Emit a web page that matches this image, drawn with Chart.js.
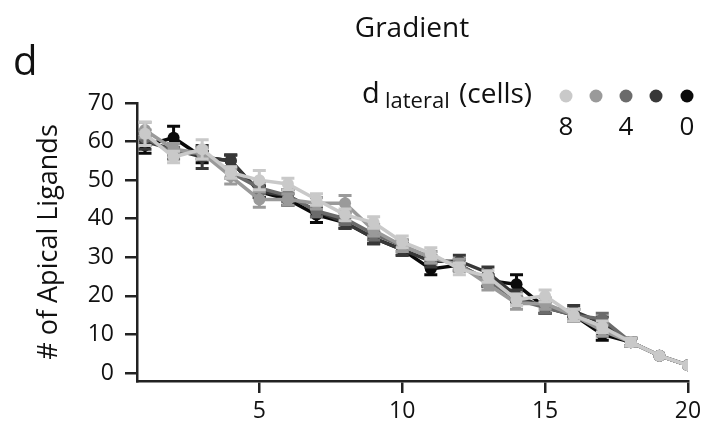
<!DOCTYPE html>
<html>
<head>
<meta charset="utf-8">
<script src="https://cdn.jsdelivr.net/npm/chart.js@4.4.1/dist/chart.umd.min.js"></script>
<style>
  html, body { margin: 0; padding: 0; background: #fff; }
  #wrap { width: 721px; height: 427px; }
</style>
</head>
<body>
<div id="wrap"><canvas id="chart" width="721" height="427"></canvas></div>
<script>
// position le long du gradient
const positions = [1, 2, 3, 4, 5, 6, 7, 8, 9, 10, 11, 12, 13, 14, 15, 16, 17, 18, 19, 20];

// d lateral = 8, 6, 4, 2, 0 (cellules)
const lateral8 = [62, 56, 58, 52, 50, 49, 45, 41, 39, 34, 31, 27, 25, 19, 20, 15, 12, 8, 4.5, 2];
const lateral6 = [63, 58, 57, 51, 45, 45, 44, 44, 37, 33, 30, 28, 23, 18, 18, 15, 11, 8, 4.5, 2];
const lateral4 = [61, 57, 57, 52, 48, 46, 42, 40, 36, 33, 30, 28, 24, 19, 17, 15, 14, 8, 4.5, 2];
const lateral2 = [60, 58, 56, 55, 47, 46, 42, 39, 35, 32, 29, 29, 26, 20, 17, 16, 13, 8, 4.5, 2];
const lateral0 = [59, 61, 56, 55, 47, 45, 41, 39, 35, 32, 27, 28, 24, 23, 17, 15, 10, 8, 4.5, 2];

// erreurs standard
const err8 = [3, 1.5, 2.5, 1.5, 2.5, 1.5, 1.5, 1.5, 1.5, 1.5, 1.5, 1.5, 1.5, 1.5, 1.5, 1.5, 1.5, 1, 0, 0];
const err6 = [2, 1.5, 1.5, 2, 2, 1.5, 1.5, 2, 1.5, 1.5, 1.5, 1.5, 1.5, 1.5, 1.5, 1.5, 1.5, 1, 0, 0];
const err4 = [2, 1.5, 1.5, 1.5, 1.5, 1.5, 1.5, 1.5, 1.5, 1.5, 1.5, 1.5, 1.5, 1.5, 1.5, 1.5, 1.5, 1, 0, 0];
const err2 = [2, 1.5, 3, 1.5, 1.5, 1.5, 1.5, 1.5, 1.5, 1.5, 1.5, 1.5, 1.5, 1.5, 1.5, 1.5, 1.5, 1, 0, 0];
const err0 = [2, 3, 1.5, 1.5, 1.5, 1.5, 2, 1.5, 1.5, 1.5, 1.5, 1.5, 1.5, 2.5, 1.5, 1.5, 1.5, 1, 0, 0];

const xTicks = [5, 10, 15, 20];
const yTicks = [0, 10, 20, 30, 40, 50, 60, 70];

const legendValues = ['8', '', '4', '', '0'];
const greys = ['#c9c9c9', '#9a9a9a', '#6b6b6b', '#383838', '#0a0a0a'];

const FONT = '"Open Sans", "Noto Sans", sans-serif';

function serie(values, errors, color) {
    return {
        data: positions.map((x, i) => ({ x: x, y: values[i] })),
        errors: errors,
        borderColor: color,
        backgroundColor: color,
        borderWidth: 3.5,
        pointRadius: 6,
        pointBorderWidth: 0,
        pointBackgroundColor: color,
        tension: 0
    };
}

// barres d'erreur, dessinées sous les points de chaque série
const errorBars = {
    id: 'errorBars',
    beforeDatasetDraw(chart, args) {
        const ds = chart.data.datasets[args.index];
        const meta = args.meta;
        const y = chart.scales.y;
        const ctx = chart.ctx;
        ctx.save();
        ctx.strokeStyle = ds.borderColor;
        ctx.lineWidth = 3;
        meta.data.forEach((pt, i) => {
            const e = ds.errors[i];
            if (!e) return;
            const v = ds.data[i].y;
            const top = y.getPixelForValue(v + e);
            const bot = y.getPixelForValue(v - e);
            ctx.beginPath();
            ctx.moveTo(pt.x, top);
            ctx.lineTo(pt.x, bot);
            ctx.moveTo(pt.x - 6.5, top);
            ctx.lineTo(pt.x + 6.5, top);
            ctx.moveTo(pt.x - 6.5, bot);
            ctx.lineTo(pt.x + 6.5, bot);
            ctx.stroke();
        });
        ctx.restore();
    }
};

// titre, lettre du panneau et légende d lateral
const annotations = {
    id: 'annotations',
    afterDraw(chart) {
        const ctx = chart.ctx;
        ctx.save();
        ctx.fillStyle = '#111';
        ctx.textBaseline = 'alphabetic';

        ctx.font = '28px ' + FONT;
        ctx.textAlign = 'center';
        ctx.fillText('Gradient', 412, 37);

        ctx.font = '40px ' + FONT;
        ctx.textAlign = 'left';
        ctx.fillText('d', 13, 75);

        ctx.font = '29px ' + FONT;
        ctx.fillText('d', 362, 103);
        ctx.font = '22px ' + FONT;
        ctx.fillText('lateral', 385, 108);
        ctx.font = '28px ' + FONT;
        ctx.fillText('(cells)', 459, 103);

        const xs = [566, 596, 626, 656, 687];
        ctx.font = '26px ' + FONT;
        ctx.textAlign = 'center';
        xs.forEach((x, i) => {
            ctx.beginPath();
            ctx.fillStyle = greys[i];
            ctx.arc(x, 96, 6.5, 0, Math.PI * 2);
            ctx.fill();
            ctx.fillStyle = '#111';
            if (legendValues[i]) ctx.fillText(legendValues[i], x, 135);
        });
        ctx.restore();
    }
};

new Chart(document.getElementById('chart'), {
    type: 'line',
    data: {
        datasets: [
            serie(lateral8, err8, greys[0]),
            serie(lateral6, err6, greys[1]),
            serie(lateral4, err4, greys[2]),
            serie(lateral2, err2, greys[3]),
            serie(lateral0, err0, greys[4])
        ]
    },
    options: {
        responsive: false,
        animation: false,
        layout: { padding: { left: 0, right: 33, top: 103, bottom: 0 } },
        plugins: {
            legend: { display: false },
            tooltip: { enabled: false }
        },
        scales: {
            x: {
                type: 'linear',
                min: 0.72,
                max: 20,
                afterFit(scale) { scale.height = 46; },
                afterBuildTicks(scale) { scale.ticks = xTicks.map(v => ({ value: v })); },
                border: { display: true, color: '#222', width: 2.5 },
                grid: { drawOnChartArea: false, drawTicks: true, tickLength: 12, color: '#222', lineWidth: 2.5 },
                ticks: { color: '#111', padding: 5, font: { family: FONT, size: 23 }, maxRotation: 0 }
            },
            y: {
                type: 'linear',
                min: -2.07,
                max: 70,
                afterFit(scale) { scale.width = 137; },
                afterBuildTicks(scale) { scale.ticks = yTicks.map(v => ({ value: v })); },
                border: { display: true, color: '#222', width: 2.5 },
                grid: { drawOnChartArea: false, drawTicks: true, tickLength: 12, color: '#222', lineWidth: 2.5 },
                ticks: { color: '#111', padding: 11, font: { family: FONT, size: 23 } },
                title: {
                    display: true,
                    text: '# of Apical Ligands',
                    color: '#111',
                    font: { family: FONT, size: 27 },
                    padding: { top: 33, bottom: 0 }
                }
            }
        }
    },
    plugins: [errorBars, annotations]
});
</script>
</body>
</html>
